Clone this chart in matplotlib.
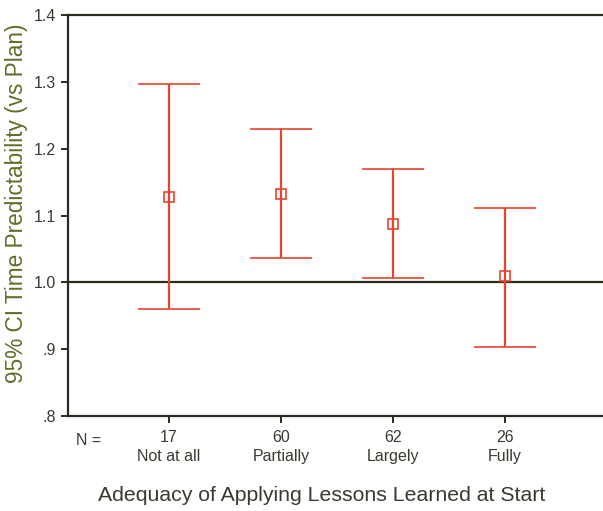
import matplotlib
matplotlib.use("Agg")
import matplotlib.pyplot as plt

# data
categories = ['Not at all', 'Partially', 'Largely', 'Fully']
counts = [17, 60, 62, 26]
means = [1.127, 1.132, 1.087, 1.010]
upper = [1.297, 1.229, 1.169, 1.111]
lower = [0.960, 1.037, 1.006, 0.903]

plt.rcParams['font.family'] = ['Liberation Sans', 'DejaVu Sans']

red = '#e8432e'
dark = '#2b2b20'
txt = '#3a3a2e'
olive = '#5f7028'

fig = plt.figure(figsize=(6.03, 5.11), dpi=100)
ax = fig.add_axes([0.1128, 0.1859, 0.8872, 0.7847])

pos = list(range(1, len(categories) + 1))
err_lo = [m - l for m, l in zip(means, lower)]
err_hi = [u - m for m, u in zip(means, upper)]
ax.errorbar(pos, means, yerr=[err_lo, err_hi], fmt='s', mfc='none', mec=red,
            ms=6.5, mew=1.2, ecolor=red, elinewidth=1.6, capsize=22, capthick=1.6,
            zorder=3)

ax.axhline(1.0, color=dark, lw=1.6, zorder=2)

ax.set_xlim(0.1, 4.875)
ax.set_ylim(0.8, 1.4)
ax.set_yticks([0.8, 0.9, 1.0, 1.1, 1.2, 1.3, 1.4])
ax.set_yticklabels(['.8', '.9', '1.0', '1.1', '1.2', '1.3', '1.4'])
ax.set_xticks(pos)
ax.set_xticklabels([f'{n}\n{c}' for n, c in zip(counts, categories)],
                   linespacing=1.35)

for s in ['top', 'bottom', 'left']:
    ax.spines[s].set_color(dark)
    ax.spines[s].set_linewidth(1.6)
ax.spines['right'].set_visible(False)

ax.tick_params(axis='both', colors=dark, labelcolor=txt, labelsize=11.5,
               length=5, width=1.4)
ax.tick_params(axis='x', pad=5)

ax.text(0.014, -0.06, 'N =', transform=ax.transAxes, fontsize=11.5,
        color=txt, ha='left', va='center')

ax.set_xlabel('Adequacy of Applying Lessons Learned at Start', fontsize=15.3,
              color=txt, labelpad=16, x=0.475)
ax.set_ylabel('95% CI Time Predictability (vs Plan)', fontsize=16.3,
              color=olive, labelpad=4, y=0.53)

fig.savefig('out.png', dpi=100)
